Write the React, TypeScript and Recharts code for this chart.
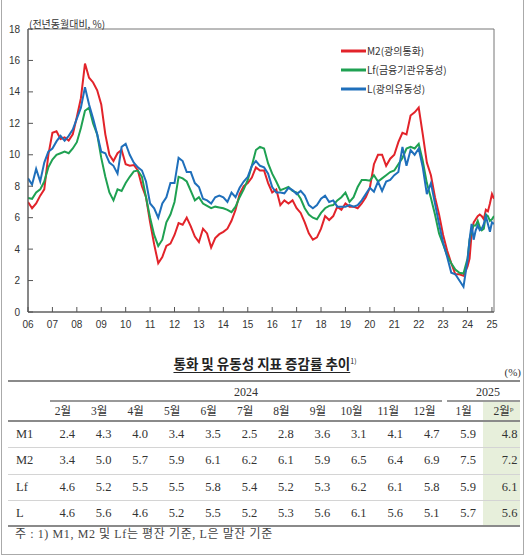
import { LineChart, Line, XAxis, YAxis, ReferenceArea, Legend } from 'recharts';

// chart: bimonthly 2006.01 ~ 2023.11, then 2024.01, then the table months
const tablePeriods = [
  '2024.02', '2024.03', '2024.04', '2024.05', '2024.06', '2024.07', '2024.08',
  '2024.09', '2024.10', '2024.11', '2024.12', '2025.01', '2025.02',
];
const tableHeads = ['2월', '3월', '4월', '5월', '6월', '7월', '8월', '9월', '10월', '11월', '12월', '1월', '2월'];

const tableM1 = [2.4, 4.3, 4.0, 3.4, 3.5, 2.5, 2.8, 3.6, 3.1, 4.1, 4.7, 5.9, 4.8];
const tableM2 = [3.4, 5.0, 5.7, 5.9, 6.1, 6.2, 6.1, 5.9, 6.5, 6.4, 6.9, 7.5, 7.2];
const tableLf = [4.6, 5.2, 5.5, 5.5, 5.8, 5.4, 5.2, 5.3, 6.2, 6.1, 5.8, 5.9, 6.1];
const tableL = [4.6, 5.6, 4.6, 5.2, 5.5, 5.2, 5.3, 5.6, 6.1, 5.6, 5.1, 5.7, 5.6];

const m2Hist = [
  7.0, 6.6, 6.9, 7.4, 7.8, 10.0, // 2006
  11.4, 11.5, 11.0, 11.1, 10.9, 11.3,
  12.4, 13.6, 15.8, 14.9, 14.6, 14.1,
  13.2, 11.3, 10.0, 9.6, 10.1, 10.3,
  9.4, 9.3, 9.35, 9.0, 8.0, 7.3, // 2010
  5.7, 4.3, 3.1, 3.5, 4.2, 4.35,
  4.9, 5.65, 5.55, 6.0, 5.45, 4.8,
  4.45, 5.3, 5.0, 4.1, 4.7, 4.95,
  5.1, 5.3, 5.8, 6.5, 7.5, 8.0,
  8.2, 8.55, 9.2, 9.0, 9.0, 8.2, // 2015
  7.6, 7.8, 6.8, 7.1, 6.9, 7.1,
  6.6, 6.3, 5.7, 5.0, 4.6, 4.75,
  5.3, 6.1, 5.85, 6.1, 6.7, 6.5,
  6.9, 6.7, 6.7, 6.6, 6.9, 7.3,
  7.9, 9.4, 10.0, 10.0, 9.3, 9.75, // 2020
  10.0, 10.8, 11.4, 11.3, 12.5, 12.7,
  13.0, 11.3, 9.5, 8.7, 7.3, 6.2,
  4.9, 3.9, 3.1, 2.4, 2.4, 2.3,
  2.9, // 2024.01
];
const lfHist = [
  7.25, 7.2, 7.6, 7.8, 8.3, 9.2,
  9.7, 10.0, 10.1, 10.2, 10.1, 10.4,
  10.8, 11.7, 12.8, 13.0, 12.0, 11.3,
  9.8, 8.6, 7.6, 7.1, 7.8, 7.7,
  8.2, 8.6, 8.95, 9.0, 8.6, 7.3,
  6.0, 4.9, 4.2, 4.6, 5.7, 6.2,
  7.0, 8.6, 8.5, 8.3, 7.7, 7.1,
  7.3, 6.9, 6.75, 6.6, 6.7, 6.65,
  6.6, 6.5, 6.35, 6.7, 7.3, 7.8,
  8.4, 9.3, 10.3, 10.5, 10.4, 9.45,
  8.8, 8.3, 7.75, 7.85, 7.95, 7.7,
  7.6, 7.2, 6.6, 6.2, 6.0, 5.9,
  6.3, 6.6, 6.75, 6.8, 7.1, 7.3,
  7.6, 7.0, 7.3, 7.95, 8.4, 8.4,
  8.35, 8.7, 8.3, 8.5, 8.7, 8.9,
  9.0, 9.4, 9.8, 10.4, 10.5, 10.4,
  10.7, 9.6, 8.2, 7.25, 6.2, 5.0,
  4.3, 3.6, 3.1, 2.7, 2.5, 2.45,
  3.4,
];
const lHist = [
  8.5, 8.1, 9.1, 8.3, 9.5, 10.2,
  10.4, 10.85, 11.2, 10.9, 11.2, 11.6,
  12.3, 13.0, 14.3, 13.2, 12.3, 11.3,
  10.2, 10.1, 9.5, 9.3, 8.8, 10.5,
  10.7, 10.0, 9.5, 9.2, 9.0, 8.3,
  6.9, 6.6, 6.0, 6.9, 7.3, 8.2,
  8.2, 9.8, 9.6, 8.9, 8.9, 8.2,
  7.95, 7.2, 7.1, 6.9, 7.3, 7.4,
  7.3, 7.0, 7.6, 7.3, 7.9, 8.3,
  8.6, 9.3, 9.6, 9.3, 9.2, 8.8,
  7.95, 7.6, 7.6, 7.55, 7.9, 7.75,
  7.5, 7.7, 7.4, 6.8, 6.6, 6.8,
  7.2, 7.4, 7.0, 7.1, 6.7, 6.7,
  6.7, 6.8, 6.7, 6.8, 7.1, 7.5,
  7.9, 7.65, 8.3, 7.7, 8.3, 8.4,
  8.7, 8.9, 10.5, 9.3, 10.3, 10.0,
  10.4, 9.2, 7.5, 8.2, 6.9, 5.6,
  4.4, 3.5, 2.5, 2.4, 2.0, 1.6,
  3.3,
];

const seriesNames = ['M2(광의통화)', 'Lf(금융기관유동성)', 'L(광의유동성)'];

const periods: string[] = [];
for (let y = 2006; y <= 2023; y++) {
  for (let m = 1; m <= 11; m += 2) periods.push(`${y}.${String(m).padStart(2, '0')}`);
}
periods.push('2024.01', ...tablePeriods);

const m2 = [...m2Hist, ...tableM2];
const lf = [...lfHist, ...tableLf];
const l = [...lHist, ...tableL];

const toYear = (p: string) => Number(p.slice(0, 4)) + (Number(p.slice(5)) - 1) / 12;
const chartData = periods.map((p, i) => ({ t: toYear(p), m2: m2[i], lf: lf[i], l: l[i] }));

const yearTicks = Array.from({ length: 20 }, (_, i) => 2006 + i);
const yTicks = [0, 2, 4, 6, 8, 10, 12, 14, 16, 18];
const xEnd = 2025 + 1 / 12;

const tableRows = [
  { label: 'M1', values: tableM1 },
  { label: 'M2', values: tableM2 },
  { label: 'Lf', values: tableLf },
  { label: 'L', values: tableL },
];

const KR = '"Noto Sans CJK KR", sans-serif';
const SERIF = '"Liberation Serif", "Noto Sans CJK KR", serif';

function renderLegend({ payload }: any) {
  // keep the series order, not recharts' alphabetical one
  const items = [...(payload || [])].sort(
    (a: any, b: any) => seriesNames.indexOf(a.value) - seriesNames.indexOf(b.value),
  );
  return (
    <div style={{ fontFamily: KR, fontSize: 10, color: '#333' }}>
      {items.map((e: any) => (
        <div key={e.value} style={{ display: 'flex', alignItems: 'center', height: 19 }}>
          <svg width={25} height={4}>
            <line x1={0} y1={2} x2={25} y2={2} stroke={e.color} strokeWidth={3} />
          </svg>
          <span style={{ marginLeft: 1 }}>{e.value}</span>
        </div>
      ))}
    </div>
  );
}

// right edge of each table column (numbers are right aligned)
const colRight = (k: number) => 75 + 36.45 * k + (k === 12 ? 5 : 0);

function Txt({ cy, left, right, children, style }: any) {
  return (
    <div
      style={{
        position: 'absolute',
        top: cy - 9,
        height: 18,
        lineHeight: '18px',
        whiteSpace: 'nowrap',
        left,
        right: right !== undefined ? 530 - right : undefined,
        ...style,
      }}
    >
      {children}
    </div>
  );
}

const hLine = (y: number, x1: number, x2: number, color: string, w = 1) => (
  <div style={{ position: 'absolute', left: x1, top: y - w / 2, width: x2 - x1, height: w, background: color }} />
);

export default function App() {
  return (
    <div style={{ position: 'absolute', left: 0, top: 0, width: 530, height: 560, background: '#fff', overflow: 'hidden' }}>
      <div
        style={{
          position: 'absolute', left: 1, top: -2, width: 523, height: 557, boxSizing: 'border-box',
          borderLeft: '1.5px solid #aaa', borderRight: '1.5px solid #aaa', borderBottom: '1.5px solid #aaa',
        }}
      />
      <LineChart width={530} height={340} data={chartData} margin={{ top: 29, right: 36, bottom: 8, left: 8 }}>
        <XAxis
          type="number"
          dataKey="t"
          domain={[2006, xEnd]}
          ticks={yearTicks}
          interval={0}
          allowDataOverflow
          height={20}
          tickFormatter={(v: number) => String(v).slice(2)}
          tickSize={-5}
          tickMargin={14}
          stroke="#555"
          tick={{ fontSize: 10, fill: '#333', fontFamily: '"Liberation Sans", Arial, sans-serif' }}
        />
        <YAxis
          domain={[0, 18]}
          ticks={yTicks}
          interval={0}
          width={20}
          tickSize={-5}
          tickMargin={13}
          stroke="#555"
          tick={{ fontSize: 10, fill: '#333', fontFamily: '"Liberation Sans", Arial, sans-serif' }}
        />
        <ReferenceArea x1={2006} x2={xEnd} y1={0} y2={18} fill="none" stroke="#777" strokeWidth={1} />
        <Line type="linear" dataKey="m2" name={seriesNames[0]} stroke="#e2232a" strokeWidth={2} dot={false} isAnimationActive={false} />
        <Line type="linear" dataKey="lf" name={seriesNames[1]} stroke="#1fa152" strokeWidth={2} dot={false} isAnimationActive={false} />
        <Line type="linear" dataKey="l" name={seriesNames[2]} stroke="#1f6fbb" strokeWidth={2} dot={false} isAnimationActive={false} />
        <Legend
          layout="vertical"
          align="center"
          verticalAlign="middle"
          wrapperStyle={{ left: 341, top: 41, width: 160 }}
          content={renderLegend}
        />
      </LineChart>
      <Txt cy={24} left={29} style={{ fontFamily: KR, fontSize: 10, color: '#333' }}>
        (전년동월대비, %)
      </Txt>

      {/* table */}
      <div
        style={{
          position: 'absolute', left: 0, top: 353, width: 530, textAlign: 'center',
          fontFamily: KR, fontSize: 13.5, fontWeight: 'bold', color: '#222', lineHeight: '20px',
        }}
      >
        <span style={{ textDecoration: 'underline', textUnderlineOffset: 3 }}>통화 및 유동성 지표 증감률 추이</span>
        <span style={{ fontSize: 7, fontWeight: 'normal', position: 'relative', top: -5 }}>1)</span>
      </div>
      <Txt cy={372} right={521} style={{ fontFamily: SERIF, fontSize: 11, color: '#333' }}>(%)</Txt>

      <div style={{ position: 'absolute', left: 483, top: 402, width: 37, height: 124, background: '#e7efdb' }} />
      {hLine(381, 8, 520, '#8a8a8a', 2)}
      {hLine(401, 50, 442, '#999', 1.5)}
      {hLine(401, 447, 520, '#999', 1.5)}
      {hLine(421, 8, 520, '#8a8a8a', 1.5)}
      {hLine(447.5, 8, 520, '#d4d4d4', 1)}
      {hLine(474, 8, 520, '#d4d4d4', 1)}
      {hLine(500.5, 8, 520, '#d4d4d4', 1)}
      {hLine(526, 8, 520, '#8a8a8a', 1.5)}

      <Txt cy={392} left={50} style={{ width: 392, textAlign: 'center', fontFamily: SERIF, fontSize: 12, color: '#333' }}>2024</Txt>
      <Txt cy={392} left={453} style={{ width: 70, textAlign: 'center', fontFamily: SERIF, fontSize: 12, color: '#333' }}>2025</Txt>

      {tableHeads.map((h, k) => (
        <Txt key={'h' + k} cy={411} right={colRight(k) - 4} style={{ fontFamily: SERIF, fontSize: 11.5, color: '#333' }}>
          {h}
          {k === 12 && <span style={{ fontSize: 7, position: 'relative', top: -4 }}>p</span>}
        </Txt>
      ))}

      {tableRows.map((row, r) => {
        const cy = 434 + r * 26.4;
        return [
          <Txt key={row.label} cy={cy} left={16} style={{ fontFamily: SERIF, fontSize: 12.5, color: '#333' }}>
            {row.label}
          </Txt>,
          ...row.values.map((v, k) => (
            <Txt key={row.label + k} cy={cy} right={colRight(k)} style={{ fontFamily: SERIF, fontSize: 12.5, color: '#333' }}>
              {v.toFixed(1)}
            </Txt>
          )),
        ];
      })}

      <Txt cy={534} left={15} style={{ fontFamily: SERIF, fontSize: 12, letterSpacing: 0.6, color: '#444' }}>
        주 : 1) M1, M2 및 Lf는 평잔 기준, L은 말잔 기준
      </Txt>
    </div>
  );
}
